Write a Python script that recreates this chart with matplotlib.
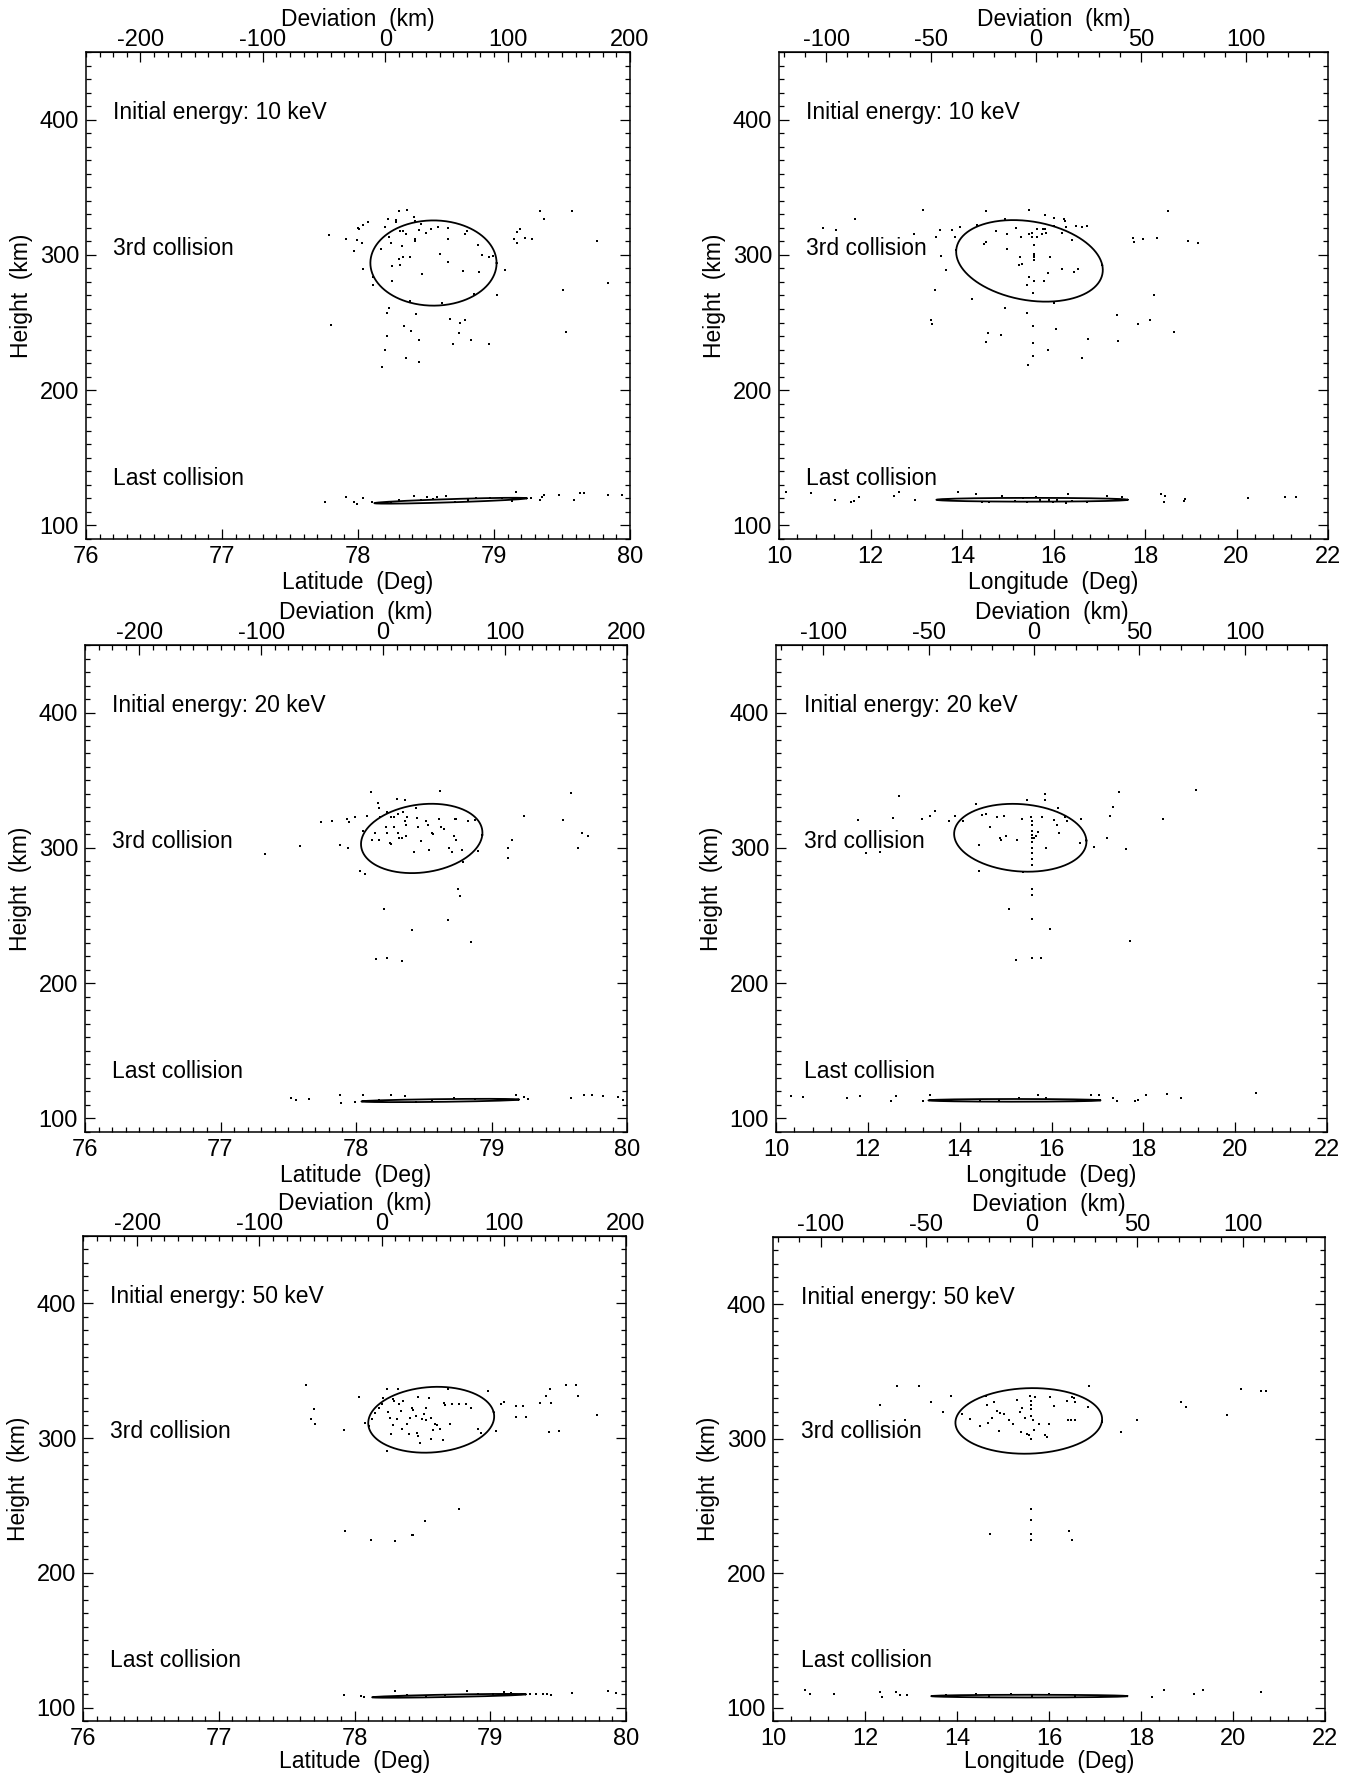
import numpy as np
import matplotlib
matplotlib.use("Agg")
import matplotlib.pyplot as plt
from matplotlib.ticker import MultipleLocator, FixedLocator

plt.rcParams['font.family'] = ['Liberation Sans', 'DejaVu Sans']
plt.rcParams['font.size'] = 16.5
plt.rcParams['axes.unicode_minus'] = False

# ---------------- data ----------------
energies = ["10 keV", "20 keV", "50 keV"]

# 10 keV, latitude / height of 3rd collision
lat10_up = [(77.79, 314.7), (77.80, 248.4), (77.91, 312.0), (77.97, 303.2), (77.99, 311.3), (78.00, 319.9),
            (78.01, 319.2), (78.04, 289.7), (78.03, 309.1), (78.04, 322.1), (78.07, 324.1), (78.11, 277.4),
            (78.11, 283.5), (78.17, 304.4), (78.20, 320.9), (78.21, 256.7), (78.22, 326.8), (78.23, 260.4),
            (78.23, 313.3), (78.24, 309.1), (78.25, 292.1), (78.25, 280.8), (78.28, 326.0), (78.28, 324.3),
            (78.30, 332.2), (78.30, 297.0), (78.31, 292.6), (78.31, 317.4), (78.32, 306.6), (78.33, 317.4),
            (78.33, 298.3), (78.34, 247.4), (78.35, 315.2), (78.36, 332.9), (78.38, 298.3), (78.38, 266.3),
            (78.41, 327.7), (78.42, 324.8), (78.42, 312.0), (78.42, 310.3), (78.43, 256.0), (78.45, 318.7),
            (78.46, 322.8), (78.47, 286.2), (78.50, 316.2), (78.54, 319.1), (78.59, 320.6), (78.60, 300.7),
            (78.62, 264.1), (78.66, 294.6), (78.66, 320.1), (78.66, 312.0), (78.68, 252.3), (78.75, 249.9),
            (78.77, 287.9), (78.79, 251.6), (78.79, 315.4), (78.80, 317.9), (78.85, 271.2), (78.88, 307.6),
            (78.89, 287.2), (78.91, 299.7), (78.96, 298.8), (78.99, 299.3), (79.02, 270.3), (79.08, 289.2),
            (79.15, 312.0), (79.17, 308.8), (79.17, 316.9), (79.19, 319.1), (79.23, 312.3), (79.28, 311.8),
            (79.34, 332.7), (79.37, 326.3), (79.51, 273.9), (79.57, 332.2), (79.76, 310.5),
            (78.21, 240.0), (78.20, 229.4), (78.18, 217.5), (78.35, 223.7), (78.39, 243.6), (78.45, 237.1),
            (78.45, 220.9), (78.74, 242.2), (78.70, 234.5), (78.83, 237.1), (78.96, 234.5), (79.53, 242.8),
            (79.84, 279.2)]
lat10_low = [(77.76, 117.1), (77.91, 120.8), (77.97, 117.1), (77.99, 116.2), (78.04, 120.0), (78.10, 117.1),
             (78.41, 121.9), (78.51, 121.3), (78.65, 121.9), (78.71, 117.6), (78.97, 120.0), (79.16, 124.8),
             (79.13, 117.9), (79.27, 120.0), (79.34, 118.5), (79.37, 122.8), (79.35, 121.3), (79.48, 122.8),
             (79.59, 118.5), (79.63, 124.2), (79.66, 124.2), (79.84, 122.8), (79.94, 122.2), (78.24, 117.6),
             (78.30, 118.5), (78.46, 118.5), (78.55, 119.4), (78.81, 119.1), (78.87, 120.0), (79.06, 120.6),
             (78.58, 121.3)]

# 10 keV, longitude
lon10_up = [(10.96, 319.9), (11.24, 318.7), (11.66, 326.8), (12.95, 315.7), (13.15, 333.4), (13.33, 251.8),
            (13.34, 248.6), (13.42, 274.4), (13.44, 313.2), (13.51, 318.7), (13.54, 299.0), (13.64, 288.7),
            (13.79, 318.4), (13.85, 313.2), (13.86, 303.4), (13.96, 320.9), (14.21, 267.1), (14.33, 321.8),
            (14.47, 308.3), (14.53, 309.3), (14.52, 332.7), (14.52, 235.6), (14.56, 242.5), (14.74, 317.9),
            (14.85, 241.0), (14.94, 326.5), (14.95, 260.9), (14.98, 315.7), (14.98, 304.7), (15.19, 319.9),
            (15.25, 292.9), (15.32, 293.4), (15.27, 298.3), (15.30, 313.0), (15.41, 257.0), (15.41, 277.4),
            (15.45, 218.7), (15.46, 332.9), (15.46, 283.5), (15.47, 315.5), (15.54, 316.2), (15.54, 313.0),
            (15.55, 235.1), (15.56, 225.3), (15.55, 247.4), (15.56, 272.0), (15.57, 300.2), (15.57, 298.5),
            (15.57, 296.1), (15.57, 307.1), (15.57, 280.6), (15.57, 301.0), (15.64, 319.4), (15.65, 313.0),
            (15.74, 315.7), (15.77, 319.4), (15.79, 280.6), (15.81, 329.2), (15.81, 319.4), (15.84, 316.2),
            (15.87, 230.0), (15.89, 286.7), (15.92, 298.8), (16.00, 327.3), (16.01, 264.1), (16.02, 321.1),
            (16.05, 245.0), (16.19, 289.9), (16.19, 316.2), (16.22, 326.8), (16.25, 325.3), (16.28, 320.4),
            (16.41, 311.0), (16.44, 287.5), (16.50, 321.1), (16.54, 289.7), (16.62, 320.6), (16.63, 224.1),
            (16.76, 237.6), (16.73, 321.1), (17.38, 255.4), (17.42, 236.6), (17.73, 312.2), (17.77, 309.9),
            (17.84, 248.9), (17.96, 311.4), (18.10, 251.7), (18.20, 270.2), (18.27, 312.2), (18.50, 332.7),
            (18.64, 243.2), (18.93, 310.5), (19.16, 309.1)]
lon10_low = [(10.15, 124.7), (10.69, 123.8), (11.22, 119.0), (11.58, 117.0), (11.65, 118.1), (11.75, 121.0),
             (12.52, 121.8), (12.63, 124.7), (12.98, 118.5), (13.92, 124.7), (14.30, 123.3), (14.44, 117.0),
             (14.88, 121.8), (15.33, 120.4), (15.61, 121.0), (15.90, 119.0), (16.32, 123.3), (17.18, 121.8),
             (17.49, 121.2), (18.34, 123.3), (18.41, 117.6), (18.43, 121.8), (18.85, 118.4), (18.88, 119.8),
             (20.26, 120.4), (21.06, 121.0), (21.30, 121.0), (14.58, 117.6), (15.15, 118.1), (15.43, 117.6),
             (15.71, 118.5), (15.99, 117.3), (16.08, 118.5), (16.27, 116.7), (16.41, 118.1), (16.74, 117.6)]

# 20 keV, latitude
lat20_up = [(77.33, 295.3), (77.59, 301.5), (77.74, 319.1), (77.82, 319.7), (77.88, 302.0), (77.93, 321.1),
            (77.94, 300.1), (77.95, 319.1), (77.99, 323.0), (78.03, 282.7), (78.05, 312.7), (78.07, 281.0),
            (78.08, 323.9), (78.11, 341.2), (78.12, 305.7), (78.14, 311.3), (78.16, 333.1), (78.17, 329.5),
            (78.17, 306.2), (78.18, 322.5), (78.21, 254.7), (78.22, 315.5), (78.23, 326.7), (78.23, 311.3),
            (78.25, 303.4), (78.26, 322.5), (78.26, 302.9), (78.28, 322.5), (78.28, 315.5), (78.30, 336.5),
            (78.31, 311.3), (78.31, 325.3), (78.32, 307.1), (78.34, 307.6), (78.35, 326.7), (78.36, 319.7),
            (78.36, 335.1), (78.37, 308.5), (78.37, 316.9), (78.38, 322.5), (78.41, 239.4), (78.43, 297.3),
            (78.44, 329.5), (78.45, 321.9), (78.46, 315.5), (78.48, 304.8), (78.52, 319.7), (78.53, 316.9),
            (78.54, 298.7), (78.56, 311.3), (78.57, 310.4), (78.61, 321.1), (78.62, 342.1), (78.63, 315.5),
            (78.65, 314.1), (78.68, 246.9), (78.69, 300.1), (78.71, 297.3), (78.72, 308.5), (78.73, 321.6),
            (78.74, 305.7), (78.74, 321.1), (78.75, 269.3), (78.77, 264.5), (78.78, 298.7), (78.79, 289.7),
            (78.83, 320.2), (78.85, 230.1), (78.88, 320.5), (78.90, 297.8), (79.12, 300.1), (79.12, 292.3),
            (79.15, 305.7), (79.24, 323.3), (79.53, 320.5), (79.59, 340.7), (79.64, 300.1), (79.67, 311.3),
            (79.71, 309.0), (78.15, 218.1), (78.23, 218.6), (78.34, 216.7)]
lat20_low = [(77.52, 115.4), (77.56, 113.4), (77.65, 114.5), (77.88, 117.3), (77.89, 111.2), (77.99, 112.0),
             (78.05, 117.6), (78.17, 113.4), (78.26, 117.3), (78.36, 116.8), (78.44, 112.0), (78.56, 114.0),
             (78.72, 115.4), (78.88, 114.5), (79.18, 117.6), (79.24, 115.9), (79.27, 114.5), (79.59, 115.4),
             (79.68, 117.3), (79.74, 117.3), (79.82, 116.8), (79.93, 115.9), (79.97, 114.0)]

# 20 keV, longitude
lon20_up = [(11.78, 320.8), (11.97, 295.9), (12.27, 297.3), (12.55, 321.9), (12.68, 338.4), (13.18, 321.1),
            (13.35, 323.9), (13.47, 327.2), (13.76, 319.7), (13.90, 323.9), (14.07, 320.2), (14.35, 332.3),
            (14.42, 302.0), (14.42, 282.7), (14.48, 324.5), (14.58, 324.8), (14.65, 315.5), (14.82, 323.0),
            (14.88, 307.1), (14.89, 305.7), (14.96, 323.9), (15.00, 308.5), (15.07, 254.5), (15.24, 305.7),
            (15.22, 217.5), (15.35, 321.1), (15.38, 281.9), (15.47, 335.6), (15.56, 323.0), (15.57, 319.7),
            (15.58, 316.9), (15.58, 312.7), (15.58, 309.9), (15.58, 307.1), (15.58, 304.3), (15.58, 300.1),
            (15.58, 295.9), (15.58, 291.7), (15.58, 287.5), (15.57, 269.3), (15.57, 265.1), (15.57, 247.7),
            (15.57, 218.9), (15.62, 307.1), (15.66, 308.5), (15.70, 312.1), (15.79, 323.0), (15.85, 335.6),
            (15.85, 339.8), (15.87, 300.1), (15.78, 218.9), (15.97, 240.0), (16.06, 320.5), (16.11, 316.9),
            (16.16, 311.3), (16.15, 329.5), (16.29, 322.5), (16.34, 319.7), (16.62, 303.4), (16.65, 321.1),
            (16.92, 300.6), (17.20, 307.6), (17.28, 323.9), (17.34, 330.0), (17.48, 341.5), (17.62, 299.2),
            (17.70, 231.5), (18.42, 321.1), (19.14, 342.9)]
lon20_low = [(10.33, 116.8), (10.59, 116.0), (11.54, 114.8), (11.82, 116.8), (12.51, 112.6), (12.62, 116.5),
             (13.20, 112.6), (13.35, 117.6), (14.44, 114.0), (14.86, 114.0), (15.29, 114.8), (15.71, 117.3),
             (15.87, 114.8), (16.86, 117.3), (17.04, 117.3), (17.34, 115.4), (17.42, 113.1), (17.81, 112.6),
             (17.89, 114.0), (18.05, 117.6), (18.51, 118.2), (18.82, 115.4), (20.46, 119.0)]

# 50 keV, latitude
lat50_up = [(77.64, 339.1), (77.70, 321.3), (77.68, 314.5), (77.71, 310.6), (77.92, 305.7), (78.03, 330.7),
            (78.08, 311.4), (78.11, 308.6), (78.13, 314.2), (78.15, 318.8), (78.18, 322.2), (78.20, 325.0),
            (78.21, 330.1), (78.24, 336.3), (78.24, 290.5), (78.25, 319.3), (78.26, 315.1), (78.27, 302.9),
            (78.28, 329.2), (78.28, 309.4), (78.29, 327.3), (78.31, 314.2), (78.32, 336.3), (78.33, 325.0),
            (78.34, 319.9), (78.35, 306.6), (78.36, 327.8), (78.39, 310.8), (78.40, 302.9), (78.41, 315.1),
            (78.42, 322.2), (78.43, 320.7), (78.45, 316.5), (78.46, 303.8), (78.47, 301.8), (78.47, 330.7),
            (78.48, 296.7), (78.50, 314.2), (78.51, 317.9), (78.53, 322.2), (78.53, 313.1), (78.55, 330.1),
            (78.56, 299.5), (78.56, 315.1), (78.58, 305.7), (78.59, 310.8), (78.61, 309.4), (78.63, 306.6),
            (78.65, 298.7), (78.66, 326.4), (78.67, 324.4), (78.69, 336.3), (78.70, 310.3), (78.72, 325.0),
            (78.77, 325.0), (78.82, 325.0), (78.86, 322.7), (78.91, 306.6), (78.93, 303.8), (78.98, 334.9),
            (79.04, 305.2), (79.08, 325.0), (79.10, 327.0), (79.19, 323.6), (79.24, 323.6), (79.19, 315.9),
            (79.26, 315.9), (79.37, 326.4), (79.41, 331.2), (79.44, 336.3), (79.45, 326.4), (79.43, 304.6),
            (79.51, 305.2), (79.56, 339.1), (79.63, 339.1), (79.65, 331.2), (79.79, 317.1), (78.77, 247.7),
            (78.52, 238.7), (78.42, 228.2), (78.43, 228.2), (78.30, 223.7), (78.12, 224.5), (77.93, 231.0)]
lat50_low = [(77.92, 109.0), (78.05, 108.5), (78.07, 107.6), (78.30, 112.2), (78.83, 112.2), (79.10, 111.3),
             (79.29, 109.9), (79.34, 109.9), (79.39, 109.9), (79.42, 109.9), (79.45, 109.3), (79.60, 110.7),
             (79.87, 112.2), (79.93, 110.7), (78.39, 109.3), (78.53, 108.5), (78.67, 109.3), (78.91, 110.4),
             (79.02, 110.4), (79.15, 111.0)]

# 50 keV, longitude
lon50_up = [(12.32, 325.0), (12.69, 339.1), (12.87, 314.2), (13.18, 339.1), (13.44, 327.0), (13.69, 319.9),
            (13.88, 332.1), (14.11, 318.5), (14.28, 314.5), (14.51, 309.4), (14.63, 332.1), (14.65, 325.0),
            (14.67, 311.4), (14.77, 315.1), (14.81, 327.0), (14.86, 320.7), (14.92, 306.0), (14.93, 318.8),
            (15.03, 318.5), (15.14, 313.7), (15.22, 310.8), (15.31, 328.7), (15.36, 319.9), (15.40, 305.2),
            (15.42, 322.7), (15.48, 315.1), (15.52, 303.8), (15.57, 302.9), (15.59, 331.5), (15.61, 327.8),
            (15.61, 325.0), (15.61, 322.2), (15.61, 317.1), (15.61, 299.5), (15.61, 248.0), (15.61, 239.2),
            (15.61, 228.8), (15.61, 224.5), (15.65, 313.7), (15.68, 306.6), (15.70, 331.2), (15.78, 310.8),
            (15.92, 302.4), (15.96, 300.9), (16.03, 331.2), (16.01, 310.8), (16.10, 324.4), (16.39, 327.8),
            (16.41, 313.7), (16.48, 314.2), (16.50, 331.2), (16.54, 330.1), (16.57, 327.3), (16.57, 314.2),
            (16.85, 323.6), (16.88, 339.1), (16.43, 231.0), (16.50, 224.5), (14.72, 228.8), (17.56, 304.6),
            (17.91, 314.2), (18.87, 327.0), (18.98, 323.6), (19.87, 317.9), (20.18, 336.9), (20.60, 335.7),
            (20.71, 335.5)]
lon50_low = [(10.70, 113.3), (10.80, 109.9), (11.33, 110.4), (12.32, 111.3), (12.36, 107.9), (12.67, 111.3),
             (12.75, 109.3), (12.92, 109.0), (13.76, 109.3), (14.42, 109.9), (14.70, 108.5), (15.17, 109.9),
             (15.64, 108.5), (16.01, 109.9), (16.57, 108.5), (17.42, 108.5), (18.24, 107.9), (18.51, 112.7),
             (19.15, 110.4), (19.34, 112.7), (20.60, 111.8)]

# fitted ellipses: centre x, centre height, x half-axis, height half-axis, height shear, x shear
ell_lat10 = [(78.555, 294.0, 0.464, 31.5, 0.0, 0.0), (78.68, 118.3, 0.56, 1.2, 1.8, 0.0)]
ell_lon10 = [(15.475, 295.6, 1.59, 30.0, -3.0, -0.2), (15.53, 119.0, 2.09, 1.4, 0.0, 0.0)]
ell_lat20 = [(78.485, 307.0, 0.447, 25.5, 2.5, 0.03), (78.62, 113.3, 0.58, 1.0, 0.7, 0.0)]
ell_lon20 = [(15.32, 307.5, 1.44, 25.0, -2.0, -0.05), (15.19, 113.4, 1.87, 1.0, 0.0, 0.0)]
ell_lat50 = [(78.565, 313.6, 0.46, 23.8, 5.6, -0.06), (78.695, 108.7, 0.565, 0.9, 1.1, 0.0)]
ell_lon50 = [(15.56, 313.2, 1.59, 24.4, -0.5, 0.12), (15.57, 108.5, 2.13, 1.0, 0.0, 0.0)]

# deviation axis: zero point, km per degree, labelled ticks
lat_dev0, lat_km = 78.2, 111.12
lon_dev0, lon_km = 15.62, 21.8
lat_dev_ticks = [-200, -100, 0, 100, 200]
lon_dev_ticks = [-100, -50, 0, 50, 100]


def ring(cx, cy, a, b, c, d):
    t = np.linspace(0, 2 * np.pi, 400)
    return cx + a * np.cos(t) + d * np.sin(t), cy + c * np.cos(t) + b * np.sin(t)


W, H = 1351, 1775
fig = plt.figure(figsize=(W / 100, H / 100), dpi=100)

# axes boxes in pixels (left, top, right, bottom)
boxes = [[(86, 52, 630, 539), (779, 52, 1328, 539)],
         [(85, 645, 627, 1132), (776, 645, 1327, 1132)],
         [(83, 1236, 626, 1721), (773, 1237, 1325, 1721)]]

panels = [[(lat10_up, lat10_low, ell_lat10), (lon10_up, lon10_low, ell_lon10)],
          [(lat20_up, lat20_low, ell_lat20), (lon20_up, lon20_low, ell_lon20)],
          [(lat50_up, lat50_low, ell_lat50), (lon50_up, lon50_low, ell_lon50)]]


def setup(ax, is_lat, xlpad):
    ax.set_ylim(90, 450)
    ax.yaxis.set_major_locator(MultipleLocator(100))
    ax.yaxis.set_minor_locator(MultipleLocator(10))
    if is_lat:
        ax.set_xlim(76, 80)
        ax.xaxis.set_major_locator(MultipleLocator(1))
        ax.xaxis.set_minor_locator(MultipleLocator(0.1))
        ax.set_xlabel('Latitude  (Deg)', labelpad=xlpad)
        x0, k = lat_dev0, lat_km
    else:
        ax.set_xlim(10, 22)
        ax.xaxis.set_major_locator(MultipleLocator(2))
        ax.xaxis.set_minor_locator(MultipleLocator(0.4))
        ax.set_xlabel('Longitude  (Deg)', labelpad=xlpad)
        x0, k = lon_dev0, lon_km
    ax.set_ylabel('Height  (km)', labelpad=5)
    ax.tick_params(which='both', direction='in', top=False, right=True, width=0.9, pad=5,
                   labelsize=17)
    ax.tick_params(which='major', length=7)
    ax.tick_params(which='minor', length=3.5)
    for s in ax.spines.values():
        s.set_linewidth(1.1)

    sec = ax.secondary_xaxis('top', functions=(lambda x: (x - x0) * k, lambda d: d / k + x0))
    if is_lat:
        sec.xaxis.set_major_locator(FixedLocator(lat_dev_ticks))
        sec.xaxis.set_minor_locator(MultipleLocator(100 / 9))
    else:
        sec.xaxis.set_major_locator(FixedLocator(lon_dev_ticks))
        sec.xaxis.set_minor_locator(MultipleLocator(10))
    sec.tick_params(which='both', direction='in', width=0.9, pad=1, labelsize=17)
    sec.tick_params(which='major', length=7)
    sec.tick_params(which='minor', length=3.5)
    sec.set_xlabel('Deviation  (km)', labelpad=2)


for r in range(3):
    for c in range(2):
        x0p, y0p, x1p, y1p = boxes[r][c]
        ax = fig.add_axes([x0p / W, 1 - y1p / H, (x1p - x0p) / W, (y1p - y0p) / H])
        up, low, ells = panels[r][c]
        for pts in (up, low):
            arr = np.array(pts)
            ax.plot(arr[:, 0], arr[:, 1], 's', ms=1.9, mew=0, color='k')
        for e in ells:
            ex, ey = ring(*e)
            ax.plot(ex, ey, color='k', lw=1.3)
        setup(ax, c == 0, 2 if r < 2 else 0)
        tr = ax.get_yaxis_transform()
        ax.text(0.05, 405, 'Initial energy: ' + energies[r], transform=tr, va='center', ha='left')
        ax.text(0.05, 305, '3rd collision', transform=tr, va='center', ha='left')
        ax.text(0.05, 135, 'Last collision', transform=tr, va='center', ha='left')

fig.savefig('out.png', dpi=100)
